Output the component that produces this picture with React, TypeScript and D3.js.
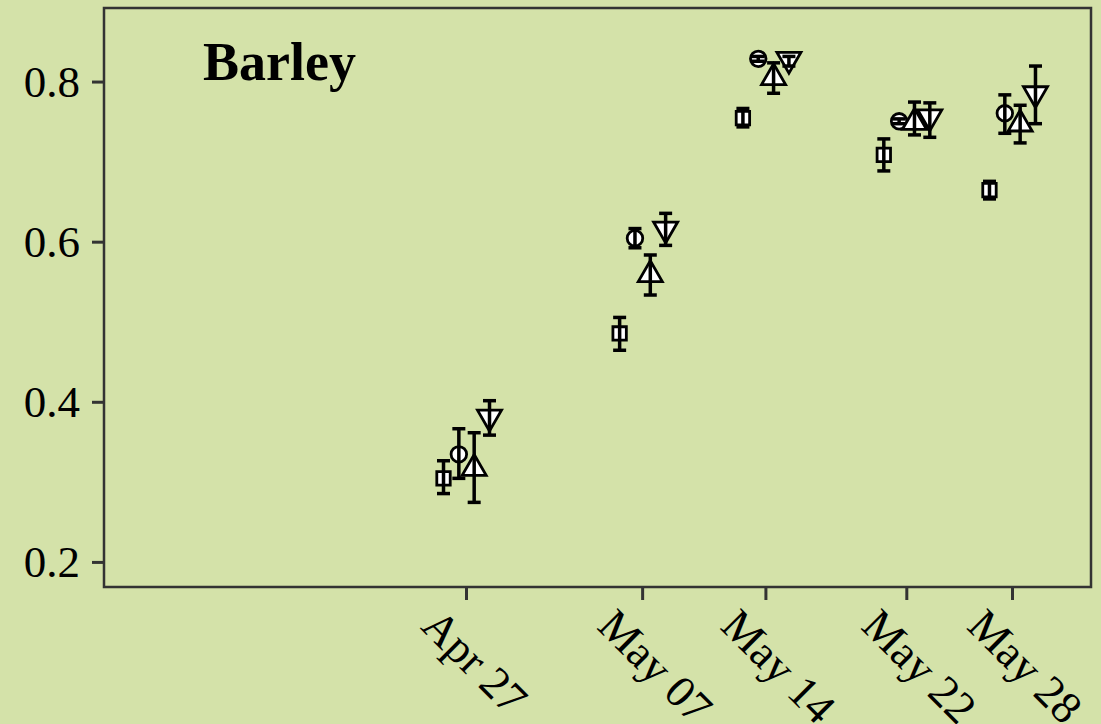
import React from "react";
import * as d3 from "d3";

const dates = ["2021-04-27", "2021-05-07", "2021-05-14", "2021-05-22", "2021-05-28"];
const tickLabels = ["Apr 27", "May 07", "May 14", "May 22", "May 28"];
const seriesNames = ["A", "B", "C", "D"];
const shapes = ["square", "circle", "triangleUp", "triangleDown"];

const meanA = [0.305, 0.486, 0.755, 0.709, 0.665];
const lowA = [0.286, 0.465, 0.744, 0.689, 0.654];
const highA = [0.327, 0.506, 0.767, 0.729, 0.676];

const meanB = [0.335, 0.605, 0.829, 0.751, 0.761];
const lowB = [0.305, 0.593, 0.826, 0.748, 0.736];
const highB = [0.367, 0.617, 0.832, 0.754, 0.784];

const meanC = [0.32, 0.562, 0.808, 0.752, 0.75];
const lowC = [0.275, 0.534, 0.786, 0.734, 0.724];
const highC = [0.362, 0.584, 0.824, 0.775, 0.771];

const meanD = [0.379, 0.614, 0.826, 0.754, 0.783];
const lowD = [0.359, 0.596, 0.82, 0.731, 0.748];
const highD = [0.402, 0.636, 0.832, 0.774, 0.82];

const yTicks = [0.2, 0.4, 0.6, 0.8];

const W = 1101;
const H = 724;
const BG = "#d4e2a9";
const PL = 104, PR = 1091, PT = 8, PB = 587;

export default function App() {
  const parse = d3.timeParse("%Y-%m-%d");
  const dts = dates.map((d) => parse(d) as Date);
  const x = d3
    .scaleTime()
    .domain([d3.timeHour.offset(dts[0], -20.57 * 24), d3.timeHour.offset(dts[4], 4.49 * 24)])
    .range([PL, PR]);
  const y = d3.scaleLinear().domain([0.1693, 0.8925]).range([PB, PT]);

  const means = [meanA, meanB, meanC, meanD];
  const lows = [lowA, lowB, lowC, lowD];
  const highs = [highA, highB, highC, highD];
  const dodge = d3.scalePoint().domain(seriesNames).range([-23, 23]);

  const symbolFor = (s: string) => {
    if (s === "square") return d3.symbol().type(d3.symbolSquare).size(180)();
    if (s === "circle") return d3.symbol().type(d3.symbolCircle).size(190)();
    return d3.symbol().type(d3.symbolTriangle).size(250)();
  };

  const points: React.ReactNode[] = [];
  const bars: React.ReactNode[] = [];
  seriesNames.forEach((name, si) => {
    dts.forEach((dt, i) => {
      const cx = x(dt) + (dodge(name) as number);
      const cy = y(means[si][i]);
      const shp = shapes[si];
      const rot = shp === "triangleDown" ? 180 : 0;
      const yOff = shp === "triangleUp" ? 2 : shp === "triangleDown" ? -2 : 0;
      points.push(
        <path
          key={`p-${si}-${i}`}
          d={symbolFor(shp) as string}
          transform={`translate(${cx},${cy + yOff}) rotate(${rot})`}
          fill="#ffffff"
          stroke="#000"
          strokeWidth={2.8}
        />
      );
      const y1 = y(lows[si][i]);
      const y2 = y(highs[si][i]);
      bars.push(
        <g key={`e-${si}-${i}`} stroke="#000" strokeWidth={3.5}>
          <line x1={cx} x2={cx} y1={y1} y2={y2} />
          <line x1={cx - 6.5} x2={cx + 6.5} y1={y1} y2={y1} />
          <line x1={cx - 6.5} x2={cx + 6.5} y1={y2} y2={y2} />
        </g>
      );
    });
  });

  return (
    <svg width={W} height={H} style={{ position: "absolute", left: 0, top: 0, display: "block" }}>
      <rect x={0} y={0} width={W} height={H} fill={BG} />
      <rect x={PL} y={PT} width={PR - PL} height={PB - PT} fill={BG} stroke="#333333" strokeWidth={2.5} />
      {yTicks.map((t) => (
        <g key={`yt-${t}`}>
          <line x1={PL - 12} x2={PL} y1={y(t)} y2={y(t)} stroke="#333333" strokeWidth={3} />
          <text
            x={PL - 24}
            y={y(t)}
            textAnchor="end"
            dominantBaseline="central"
            fontFamily="'Liberation Serif', 'Times New Roman', serif"
            fontSize={45}
            fill="#000"
          >
            {d3.format(".1f")(t)}
          </text>
        </g>
      ))}
      {dts.map((dt, i) => (
        <g key={`xt-${i}`}>
          <line x1={x(dt)} x2={x(dt)} y1={PB} y2={PB + 13} stroke="#333333" strokeWidth={3} />
          <text
            transform={`translate(${x(dt) - 47},${628}) rotate(45)`}
            textAnchor="start"
            fontFamily="'Liberation Serif', 'Times New Roman', serif"
            fontSize={45}
            fill="#000"
          >
            {tickLabels[i]}
          </text>
        </g>
      ))}
      {points}
      {bars}
      <text
        x={203}
        y={80}
        fontFamily="'Liberation Serif', 'Times New Roman', serif"
        fontWeight="bold"
        fontSize={54}
        fill="#000"
      >
        Barley
      </text>
    </svg>
  );
}
